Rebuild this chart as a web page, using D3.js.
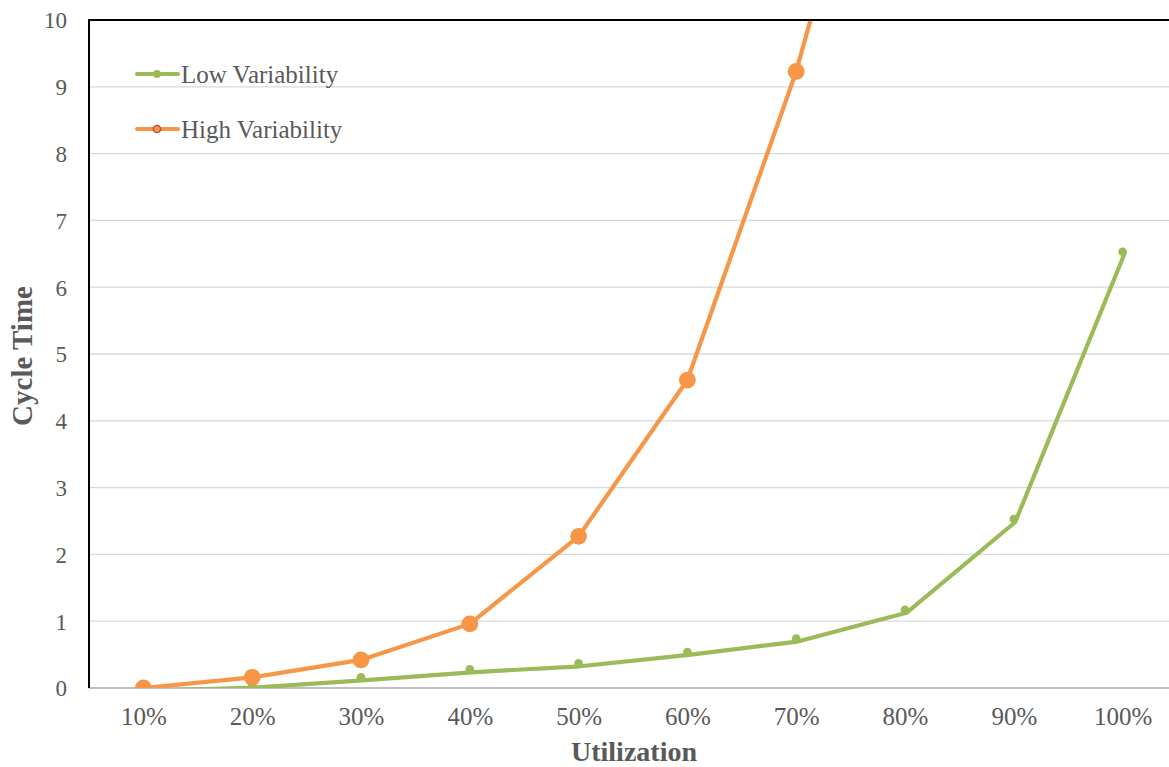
<!DOCTYPE html>
<html>
<head>
<meta charset="utf-8">
<script src="https://cdn.jsdelivr.net/npm/d3@7"></script>
<style>
  html, body { margin: 0; padding: 0; background: #ffffff; }
  svg { display: block; }
  text { font-family: "Liberation Serif", "Times New Roman", serif; fill: #595959; }
</style>
</head>
<body>
<svg id="chart" width="1169" height="767"></svg>
<script>
// Utilization levels on the x axis
const categories = ["10%", "20%", "30%", "40%", "50%", "60%", "70%", "80%", "90%", "100%"];
// Cycle time for a low-variability process
const lowVariability = [0, 0.05, 0.16, 0.28, 0.37, 0.54, 0.74, 1.17, 2.53, 6.53];
// Cycle time for a high-variability process (80% runs off the top of the scale)
const highVariability = [0, 0.16, 0.42, 0.96, 2.27, 4.61, 9.23, 15.1];
const yTicks = [0, 1, 2, 3, 4, 5, 6, 7, 8, 9, 10];
const seriesNames = ["Low Variability", "High Variability"];

const svg = d3.select("#chart");
const plot = { left: 89, right: 1177, top: 20, bottom: 688 };

const x = d3.scalePoint().domain(categories).range([plot.left, plot.right]).padding(0.5);
const y = d3.scaleLinear().domain([0, 10]).range([plot.bottom, plot.top]);

const green = "#9BBB59";
const orange = "#F79646";
const serif = "'Liberation Serif', 'Times New Roman', serif";

svg.append("defs").append("clipPath").attr("id", "plotClip")
  .append("rect")
  .attr("x", plot.left).attr("y", plot.top)
  .attr("width", plot.right - plot.left).attr("height", plot.bottom - plot.top);

// Horizontal gridlines
svg.append("g")
  .selectAll("line")
  .data(yTicks.filter(d => d > 0 && d < 10))
  .join("line")
  .attr("x1", plot.left).attr("x2", plot.right)
  .attr("y1", d => y(d)).attr("y2", d => y(d))
  .attr("stroke", "#d9d9d9").attr("stroke-width", 1.3);

// Y axis tick labels
const yAxis = svg.append("g")
  .attr("transform", `translate(${plot.left},0)`)
  .call(d3.axisLeft(y).tickValues(yTicks).tickSize(0).tickPadding(22).tickFormat(d3.format("d")));
yAxis.select(".domain").remove();
yAxis.selectAll("text")
  .attr("fill", "#595959")
  .style("font-family", serif)
  .style("font-size", "23px")
  .attr("dy", "0.34em");

// X axis tick labels
const xAxis = svg.append("g")
  .attr("transform", `translate(0,${plot.bottom})`)
  .call(d3.axisBottom(x).tickSize(0).tickPadding(19));
xAxis.select(".domain").remove();
xAxis.selectAll("text")
  .attr("fill", "#595959")
  .style("font-family", serif)
  .style("font-size", "25px");

// Gray baseline along the category axis
svg.append("line")
  .attr("x1", plot.left).attr("x2", plot.right)
  .attr("y1", plot.bottom).attr("y2", plot.bottom)
  .attr("stroke", "#bfbfbf").attr("stroke-width", 2.2);

const lineGen = d3.line()
  .x((d, i) => x(categories[i]))
  .y(d => y(d));

const series = svg.append("g").attr("clip-path", "url(#plotClip)");

// Low variability line and markers
series.append("path")
  .datum(lowVariability)
  .attr("d", lineGen)
  .attr("transform", "translate(1.5,3)")
  .attr("fill", "none")
  .attr("stroke", green)
  .attr("stroke-width", 4.2)
  .attr("stroke-linejoin", "round")
  .attr("stroke-linecap", "round");

series.append("g")
  .selectAll("circle")
  .data(lowVariability)
  .join("circle")
  .attr("cx", (d, i) => x(categories[i]))
  .attr("cy", d => y(d))
  .attr("r", 4.3)
  .attr("fill", green);

// High variability line and markers
series.append("path")
  .datum(highVariability)
  .attr("d", lineGen)
  .attr("fill", "none")
  .attr("stroke", orange)
  .attr("stroke-width", 4.2)
  .attr("stroke-linejoin", "round");

series.append("g")
  .selectAll("circle")
  .data(highVariability)
  .join("circle")
  .attr("cx", (d, i) => x(categories[i]))
  .attr("cy", d => y(d))
  .attr("r", 8.4)
  .attr("fill", orange);

// Black left and top edges of the plot frame
svg.append("line")
  .attr("x1", plot.left).attr("x2", plot.left)
  .attr("y1", plot.top - 1).attr("y2", plot.bottom)
  .attr("stroke", "#000").attr("stroke-width", 2);
svg.append("line")
  .attr("x1", plot.left).attr("x2", plot.right)
  .attr("y1", plot.top).attr("y2", plot.top)
  .attr("stroke", "#000").attr("stroke-width", 2);

// Legend
const legend = svg.append("g");
const legendRows = [
  { name: seriesNames[0], color: green, y: 74, r: 4, stroke: "none" },
  { name: seriesNames[1], color: orange, y: 129, r: 3.6, stroke: "#C0504D" }
];
legendRows.forEach(row => {
  legend.append("line")
    .attr("x1", 137).attr("x2", 178)
    .attr("y1", row.y).attr("y2", row.y)
    .attr("stroke", row.color).attr("stroke-width", 4.2)
    .attr("stroke-linecap", "round");
  legend.append("circle")
    .attr("cx", 157).attr("cy", row.y).attr("r", row.r)
    .attr("fill", row.color)
    .attr("stroke", row.stroke).attr("stroke-width", 1.5);
  legend.append("text")
    .attr("x", 181).attr("y", row.y)
    .attr("dy", "0.34em")
    .style("font-size", "25px")
    .text(row.name);
});

// Axis titles
svg.append("text")
  .attr("x", 634).attr("y", 761)
  .attr("text-anchor", "middle")
  .style("font-size", "28px").style("font-weight", "bold")
  .text("Utilization");

svg.append("text")
  .attr("transform", "translate(32,356) rotate(-90)")
  .attr("text-anchor", "middle")
  .style("font-size", "29px").style("font-weight", "bold")
  .text("Cycle Time");
</script>
</body>
</html>
